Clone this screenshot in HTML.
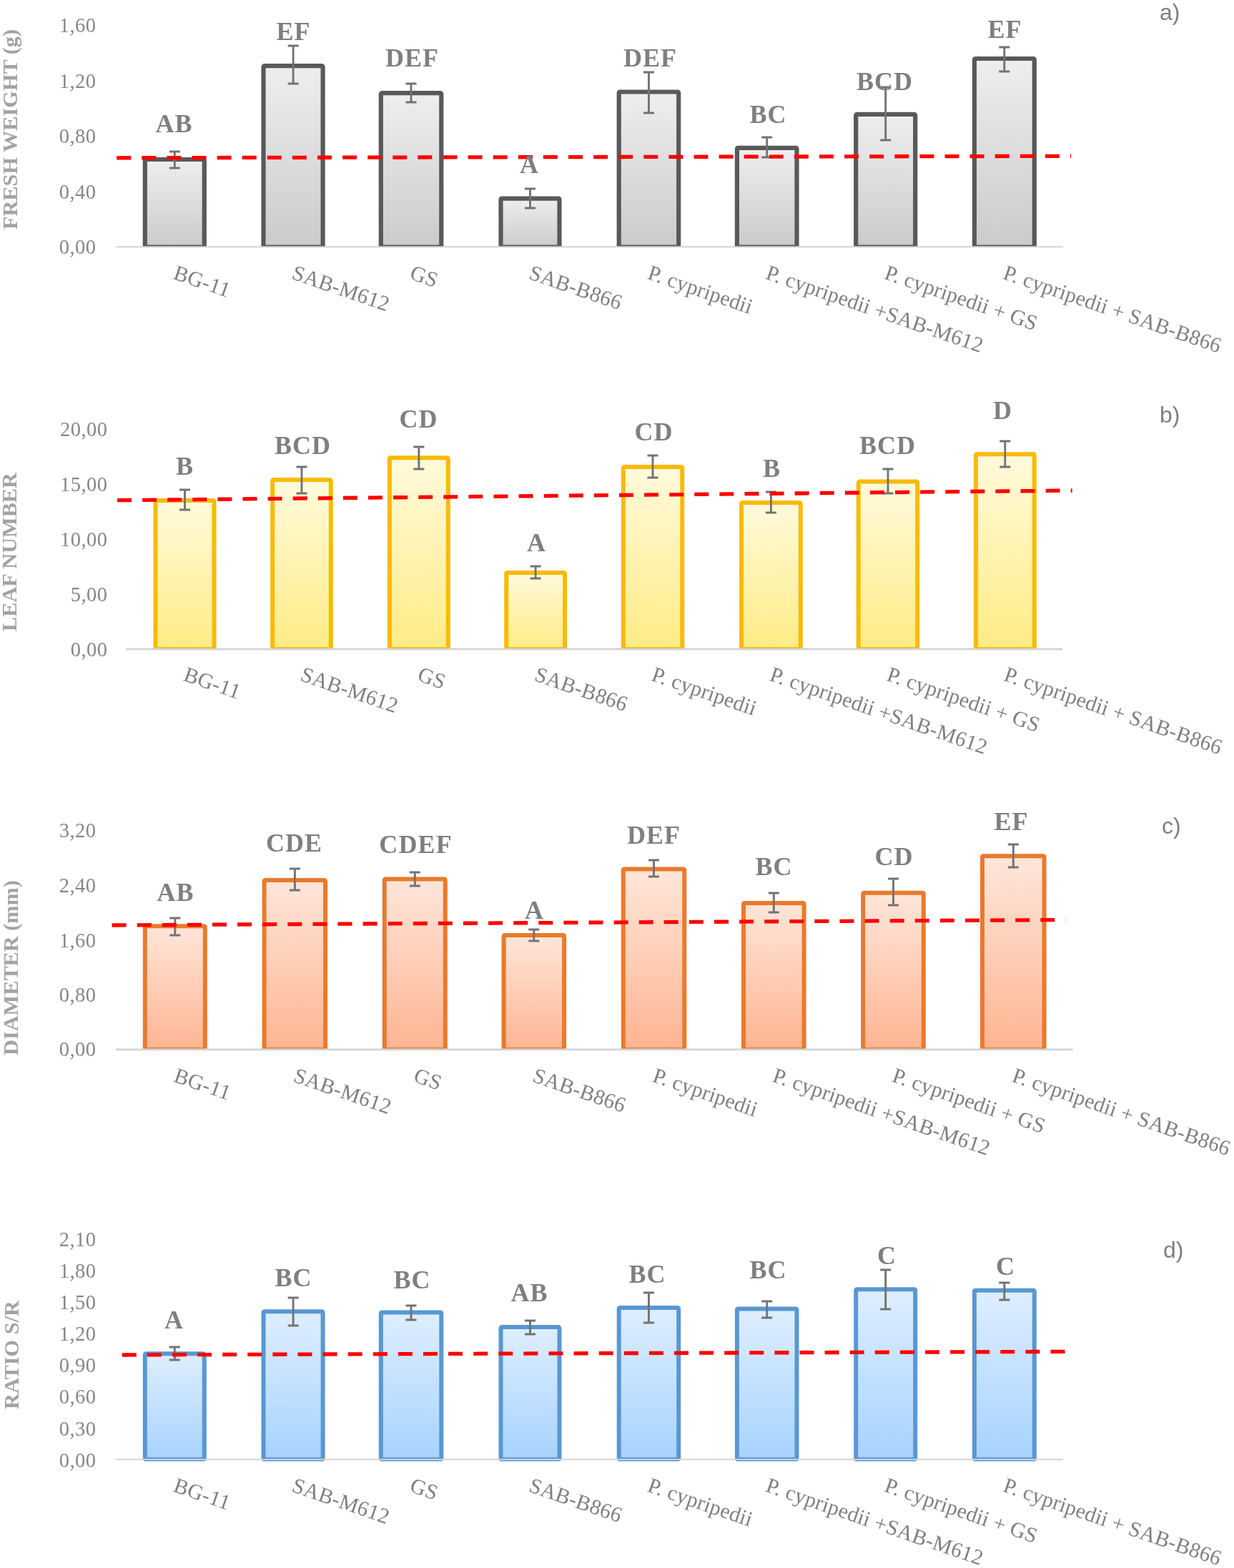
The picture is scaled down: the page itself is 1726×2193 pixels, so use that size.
<!DOCTYPE html>
<html lang="en"><head><meta charset="utf-8"><title>Figure</title>
<style>html,body{margin:0;padding:0;background:#fff}body{width:1726px;height:2193px;overflow:hidden}svg{display:block}
text{font-family:"Liberation Serif","DejaVu Serif",serif}
.tk{font-size:28.5px;fill:#868686;text-anchor:end;letter-spacing:0.45px}
  .ct{font-size:30px;fill:#808080;letter-spacing:0.2px}
.lb{font-size:36px;fill:#7f7f7f;font-weight:bold;text-anchor:middle;letter-spacing:1.1px}
.tt{font-size:30.3px;fill:#a3a3a3;font-weight:bold;text-anchor:middle}
.pn{font-family:"Liberation Sans","DejaVu Sans",sans-serif;font-size:32px;fill:#7f7f7f}
.eb{stroke:#737373;stroke-width:2.9;fill:none}
.ax{stroke:#d4d4d4;stroke-width:2.6}
.rd{stroke:#ff0000;stroke-width:5.3;stroke-dasharray:20 15.1;fill:none}
</style></head><body>
<svg width="1726" height="2193" viewBox="0 0 1726 2193">
<rect width="1726" height="2193" fill="#fff"/>
<defs>
<linearGradient id="ga" x1="0" y1="0" x2="0" y2="1"><stop offset="0" stop-color="#eeeeee"/><stop offset="1" stop-color="#cbcbcb"/></linearGradient>
<linearGradient id="gb" x1="0" y1="0" x2="0" y2="1"><stop offset="0" stop-color="#fffadc"/><stop offset="1" stop-color="#ffec85"/></linearGradient>
<linearGradient id="gc" x1="0" y1="0" x2="0" y2="1"><stop offset="0" stop-color="#ffe6da"/><stop offset="1" stop-color="#feb592"/></linearGradient>
<linearGradient id="gd" x1="0" y1="0" x2="0" y2="1"><stop offset="0" stop-color="#deeeff"/><stop offset="1" stop-color="#a7d3fe"/></linearGradient>
</defs>
<g id="chart-a">
<text class="tt" transform="translate(14,181) rotate(-90)" dy="0.33em">FRESH WEIGHT (g)</text>
<text class="tk" x="134.45" y="45.205">1,60</text>
<text class="tk" x="134.45" y="122.705">1,20</text>
<text class="tk" x="134.45" y="200.205">0,80</text>
<text class="tk" x="134.45" y="277.705">0,40</text>
<text class="tk" x="134.45" y="355.205">0,00</text>
<clipPath id="cpa"><rect x="0" y="-54.8" width="1726" height="400"/></clipPath>
<g clip-path="url(#cpa)">
<rect x="202.80" y="223.00" width="83.00" height="122.65" rx="1.5" fill="url(#ga)" stroke="#595959" stroke-width="6.2"/>
<rect x="368.50" y="92.20" width="83.10" height="253.45" rx="1.5" fill="url(#ga)" stroke="#595959" stroke-width="6.2"/>
<rect x="532.80" y="130.20" width="84.50" height="215.45" rx="1.5" fill="url(#ga)" stroke="#595959" stroke-width="6.2"/>
<rect x="700.50" y="277.60" width="82.00" height="68.05" rx="1.5" fill="url(#ga)" stroke="#595959" stroke-width="6.2"/>
<rect x="865.70" y="128.50" width="83.50" height="217.15" rx="1.5" fill="url(#ga)" stroke="#595959" stroke-width="6.2"/>
<rect x="1030.90" y="206.80" width="83.60" height="138.85" rx="1.5" fill="url(#ga)" stroke="#595959" stroke-width="6.2"/>
<rect x="1197.20" y="159.90" width="83.00" height="185.75" rx="1.5" fill="url(#ga)" stroke="#595959" stroke-width="6.2"/>
<rect x="1362.90" y="82.00" width="83.90" height="263.65" rx="1.5" fill="url(#ga)" stroke="#595959" stroke-width="6.2"/>
</g>
<line class="ax" style="stroke-width:2.1" x1="162" y1="345.2" x2="1487" y2="345.2"/>
<path class="eb" d="M236.8 212.0H251.8M244.3 212.0V235.0M236.8 235.0H251.8"/>
<path class="eb" d="M402.6 64.0H417.6M410.1 64.0V117.0M402.6 117.0H417.6"/>
<path class="eb" d="M567.5 117.0H582.5M575.0 117.0V143.0M567.5 143.0H582.5"/>
<path class="eb" d="M734.0 264.0H749.0M741.5 264.0V291.0M734.0 291.0H749.0"/>
<path class="eb" d="M900.0 101.0H915.0M907.5 101.0V158.0M900.0 158.0H915.0"/>
<path class="eb" d="M1065.2 192.0H1080.2M1072.7 192.0V220.0M1065.2 220.0H1080.2"/>
<path class="eb" d="M1231.2 122.0H1246.2M1238.7 122.0V196.0M1231.2 196.0H1246.2"/>
<path class="eb" d="M1397.3 66.0H1412.3M1404.8 66.0V100.0M1397.3 100.0H1412.3"/>
<line class="rd" x1="163.2" y1="220.8" x2="1498.2" y2="218.3"/>
<text class="lb" x="243.55" y="184.5">AB</text>
<text class="lb" x="410.55" y="55.5">EF</text>
<text class="lb" x="576.55" y="92.5">DEF</text>
<text class="lb" x="740.55" y="242.2">A</text>
<text class="lb" x="909.55" y="92.5">DEF</text>
<text class="lb" x="1074.55" y="171.5">BC</text>
<text class="lb" x="1237.55" y="125.5">BCD</text>
<text class="lb" x="1405.55" y="52.5">EF</text>
<text class="ct" transform="translate(241.0,389.6) rotate(19)">BG-11</text>
<text class="ct" transform="translate(406.8,389.6) rotate(19)">SAB-M612</text>
<text class="ct" transform="translate(571.8,389.6) rotate(19)">GS</text>
<text class="ct" transform="translate(738.2,389.6) rotate(19)">SAB-B866</text>
<text class="ct" transform="translate(904.2,389.6) rotate(19)">P. cypripedii</text>
<text class="ct" transform="translate(1069.4,389.6) rotate(19)">P. cypripedii +SAB-M612</text>
<text class="ct" transform="translate(1235.4,389.6) rotate(19)">P. cypripedii + GS</text>
<text class="ct" transform="translate(1401.5,389.6) rotate(19)">P. cypripedii + SAB-B866</text>
<text class="pn" x="1622" y="28">a)</text>
</g>
<g id="chart-b">
<text class="tt" transform="translate(13,772) rotate(-90)" dy="0.33em">LEAF NUMBER</text>
<text class="tk" x="150.45" y="610.005">20,00</text>
<text class="tk" x="150.45" y="686.805">15,00</text>
<text class="tk" x="150.45" y="764.205">10,00</text>
<text class="tk" x="150.45" y="841.005">5,00</text>
<text class="tk" x="150.45" y="918.305">0,00</text>
<clipPath id="cpb"><rect x="0" y="507.9" width="1726" height="400"/></clipPath>
<g clip-path="url(#cpb)">
<rect x="217.50" y="699.90" width="82.00" height="208.20" rx="1.5" fill="url(#gb)" stroke="#f9ba07" stroke-width="6"/>
<rect x="381.20" y="671.10" width="81.60" height="237.00" rx="1.5" fill="url(#gb)" stroke="#f9ba07" stroke-width="6"/>
<rect x="544.90" y="640.20" width="81.90" height="267.90" rx="1.5" fill="url(#gb)" stroke="#f9ba07" stroke-width="6"/>
<rect x="708.20" y="800.90" width="81.90" height="107.20" rx="1.5" fill="url(#gb)" stroke="#f9ba07" stroke-width="6"/>
<rect x="871.80" y="652.90" width="82.50" height="255.20" rx="1.5" fill="url(#gb)" stroke="#f9ba07" stroke-width="6"/>
<rect x="1037.00" y="702.90" width="82.80" height="205.20" rx="1.5" fill="url(#gb)" stroke="#f9ba07" stroke-width="6"/>
<rect x="1200.70" y="673.60" width="82.50" height="234.50" rx="1.5" fill="url(#gb)" stroke="#f9ba07" stroke-width="6"/>
<rect x="1364.90" y="635.20" width="81.90" height="272.90" rx="1.5" fill="url(#gb)" stroke="#f9ba07" stroke-width="6"/>
</g>
<line class="ax" style="stroke-width:2.6" x1="176" y1="907.9" x2="1486" y2="907.9"/>
<path class="eb" d="M251.0 685.0H266.0M258.5 685.0V713.0M251.0 713.0H266.0"/>
<path class="eb" d="M414.5 653.0H429.5M422.0 653.0V690.0M414.5 690.0H429.5"/>
<path class="eb" d="M578.4 625.0H593.4M585.9 625.0V656.0M578.4 656.0H593.4"/>
<path class="eb" d="M741.6 792.0H756.6M749.1 792.0V809.0M741.6 809.0H756.6"/>
<path class="eb" d="M905.5 637.0H920.5M913.0 637.0V668.0M905.5 668.0H920.5"/>
<path class="eb" d="M1070.9 688.0H1085.9M1078.4 688.0V717.0M1070.9 717.0H1085.9"/>
<path class="eb" d="M1234.5 656.0H1249.5M1242.0 656.0V690.0M1234.5 690.0H1249.5"/>
<path class="eb" d="M1398.3 617.0H1413.3M1405.8 617.0V653.0M1398.3 653.0H1413.3"/>
<line class="rd" x1="164" y1="699.7" x2="1499.7" y2="686"/>
<text class="lb" x="258.55" y="663.5">B</text>
<text class="lb" x="423.55" y="634.5">BCD</text>
<text class="lb" x="585.55" y="597.5">CD</text>
<text class="lb" x="750.55" y="770.5">A</text>
<text class="lb" x="914.55" y="615.5">CD</text>
<text class="lb" x="1079.55" y="666.5">B</text>
<text class="lb" x="1241.55" y="634.5">BCD</text>
<text class="lb" x="1402.55" y="585.5">D</text>
<text class="ct" transform="translate(255.2,951.3) rotate(19)">BG-11</text>
<text class="ct" transform="translate(418.7,951.3) rotate(19)">SAB-M612</text>
<text class="ct" transform="translate(582.6,951.3) rotate(19)">GS</text>
<text class="ct" transform="translate(745.9,951.3) rotate(19)">SAB-B866</text>
<text class="ct" transform="translate(909.8,951.3) rotate(19)">P. cypripedii</text>
<text class="ct" transform="translate(1075.1,951.3) rotate(19)">P. cypripedii +SAB-M612</text>
<text class="ct" transform="translate(1238.7,951.3) rotate(19)">P. cypripedii + GS</text>
<text class="ct" transform="translate(1402.5,951.3) rotate(19)">P. cypripedii + SAB-B866</text>
<text class="pn" x="1622" y="591">b)</text>
</g>
<g id="chart-c">
<text class="tt" transform="translate(15.3,1353.5) rotate(-90)" dy="0.33em">DIAMETER (mm)</text>
<text class="tk" x="134.45" y="1171.2">3,20</text>
<text class="tk" x="134.45" y="1248">2,40</text>
<text class="tk" x="134.45" y="1324.8">1,60</text>
<text class="tk" x="134.45" y="1400.5">0,80</text>
<text class="tk" x="134.45" y="1477.4">0,00</text>
<clipPath id="cpc"><rect x="0" y="1067.9" width="1726" height="400"/></clipPath>
<g clip-path="url(#cpc)">
<rect x="202.80" y="1295.20" width="84.00" height="172.90" rx="1.5" fill="url(#gc)" stroke="#e97a2c" stroke-width="6"/>
<rect x="369.60" y="1231.10" width="85.50" height="237.00" rx="1.5" fill="url(#gc)" stroke="#e97a2c" stroke-width="6"/>
<rect x="537.80" y="1229.50" width="85.00" height="238.60" rx="1.5" fill="url(#gc)" stroke="#e97a2c" stroke-width="6"/>
<rect x="704.60" y="1307.90" width="84.50" height="160.20" rx="1.5" fill="url(#gc)" stroke="#e97a2c" stroke-width="6"/>
<rect x="871.80" y="1215.40" width="85.50" height="252.70" rx="1.5" fill="url(#gc)" stroke="#e97a2c" stroke-width="6"/>
<rect x="1040.00" y="1262.90" width="84.60" height="205.20" rx="1.5" fill="url(#gc)" stroke="#e97a2c" stroke-width="6"/>
<rect x="1207.20" y="1248.70" width="84.60" height="219.40" rx="1.5" fill="url(#gc)" stroke="#e97a2c" stroke-width="6"/>
<rect x="1374.00" y="1197.20" width="86.60" height="270.90" rx="1.5" fill="url(#gc)" stroke="#e97a2c" stroke-width="6"/>
</g>
<line class="ax" style="stroke-width:2.6" x1="161.7" y1="1467.9" x2="1500.7" y2="1467.9"/>
<path class="eb" d="M237.3 1284.0H252.3M244.8 1284.0V1308.0M237.3 1308.0H252.3"/>
<path class="eb" d="M404.9 1215.0H419.9M412.4 1215.0V1245.0M404.9 1245.0H419.9"/>
<path class="eb" d="M572.8 1220.0H587.8M580.3 1220.0V1239.0M572.8 1239.0H587.8"/>
<path class="eb" d="M739.3 1300.0H754.3M746.8 1300.0V1316.0M739.3 1316.0H754.3"/>
<path class="eb" d="M907.0 1203.0H922.0M914.5 1203.0V1226.0M907.0 1226.0H922.0"/>
<path class="eb" d="M1074.8 1249.0H1089.8M1082.3 1249.0V1276.0M1074.8 1276.0H1089.8"/>
<path class="eb" d="M1242.0 1229.0H1257.0M1249.5 1229.0V1266.0M1242.0 1266.0H1257.0"/>
<path class="eb" d="M1409.8 1181.0H1424.8M1417.3 1181.0V1213.0M1409.8 1213.0H1424.8"/>
<line class="rd" x1="156.6" y1="1294" x2="1490.6" y2="1286.5"/>
<text class="lb" x="245.55" y="1259.5">AB</text>
<text class="lb" x="411.55" y="1190.5">CDE</text>
<text class="lb" x="581.55" y="1192.5">CDEF</text>
<text class="lb" x="747.55" y="1284.5">A</text>
<text class="lb" x="914.55" y="1179.5">DEF</text>
<text class="lb" x="1082.55" y="1223.5">BC</text>
<text class="lb" x="1250.55" y="1209.5">CD</text>
<text class="lb" x="1414.55" y="1160.5">EF</text>
<text class="ct" transform="translate(241.5,1512.3) rotate(19)">BG-11</text>
<text class="ct" transform="translate(409.1,1512.3) rotate(19)">SAB-M612</text>
<text class="ct" transform="translate(577.0,1512.3) rotate(19)">GS</text>
<text class="ct" transform="translate(743.5,1512.3) rotate(19)">SAB-B866</text>
<text class="ct" transform="translate(911.2,1512.3) rotate(19)">P. cypripedii</text>
<text class="ct" transform="translate(1079.0,1512.3) rotate(19)">P. cypripedii +SAB-M612</text>
<text class="ct" transform="translate(1246.2,1512.3) rotate(19)">P. cypripedii + GS</text>
<text class="ct" transform="translate(1414.0,1512.3) rotate(19)">P. cypripedii + SAB-B866</text>
<text class="pn" x="1625" y="1166">c)</text>
</g>
<g id="chart-d">
<text class="tt" transform="translate(15.5,1895) rotate(-90)" dy="0.33em">RATIO S/R</text>
<text class="tk" x="134.45" y="1743.4">2,10</text>
<text class="tk" x="134.45" y="1786.81">1,80</text>
<text class="tk" x="134.45" y="1830.81">1,50</text>
<text class="tk" x="134.45" y="1874.7">1,20</text>
<text class="tk" x="134.45" y="1919.2">0,90</text>
<text class="tk" x="134.45" y="1963.2">0,60</text>
<text class="tk" x="134.45" y="2007.61">0,30</text>
<text class="tk" x="134.45" y="2051.61">0,00</text>
<clipPath id="cpd"><rect x="0" y="1641.2" width="1726" height="402.6"/></clipPath>
<g clip-path="url(#cpd)">
<rect x="202.80" y="1893.20" width="83.00" height="148.00" rx="1.5" fill="url(#gd)" stroke="#5997d3" stroke-width="6"/>
<rect x="368.50" y="1834.20" width="83.10" height="207.00" rx="1.5" fill="url(#gd)" stroke="#5997d3" stroke-width="6"/>
<rect x="532.80" y="1835.40" width="84.50" height="205.80" rx="1.5" fill="url(#gd)" stroke="#5997d3" stroke-width="6"/>
<rect x="700.50" y="1856.10" width="82.00" height="185.10" rx="1.5" fill="url(#gd)" stroke="#5997d3" stroke-width="6"/>
<rect x="865.70" y="1828.90" width="83.50" height="212.30" rx="1.5" fill="url(#gd)" stroke="#5997d3" stroke-width="6"/>
<rect x="1030.90" y="1830.40" width="83.60" height="210.80" rx="1.5" fill="url(#gd)" stroke="#5997d3" stroke-width="6"/>
<rect x="1197.20" y="1803.20" width="83.00" height="238.00" rx="1.5" fill="url(#gd)" stroke="#5997d3" stroke-width="6"/>
<rect x="1362.90" y="1804.70" width="83.90" height="236.50" rx="1.5" fill="url(#gd)" stroke="#5997d3" stroke-width="6"/>
</g>
<line class="ax" style="stroke-width:2" x1="161.7" y1="2041.2" x2="1487" y2="2041.2"/>
<path class="eb" d="M236.8 1884.0H251.8M244.3 1884.0V1902.0M236.8 1902.0H251.8"/>
<path class="eb" d="M402.6 1815.0H417.6M410.1 1815.0V1854.0M402.6 1854.0H417.6"/>
<path class="eb" d="M567.5 1826.0H582.5M575.0 1826.0V1846.0M567.5 1846.0H582.5"/>
<path class="eb" d="M734.0 1847.0H749.0M741.5 1847.0V1866.0M734.0 1866.0H749.0"/>
<path class="eb" d="M900.0 1808.0H915.0M907.5 1808.0V1850.0M900.0 1850.0H915.0"/>
<path class="eb" d="M1065.2 1820.0H1080.2M1072.7 1820.0V1843.0M1065.2 1843.0H1080.2"/>
<path class="eb" d="M1231.2 1776.0H1246.2M1238.7 1776.0V1831.0M1231.2 1831.0H1246.2"/>
<path class="eb" d="M1397.3 1794.0H1412.3M1404.8 1794.0V1818.0M1397.3 1818.0H1412.3"/>
<line class="rd" x1="170.8" y1="1895" x2="1489.6" y2="1890.4"/>
<text class="lb" x="243.55" y="1857.5">A</text>
<text class="lb" x="410.55" y="1798.5">BC</text>
<text class="lb" x="576.55" y="1801.5">BC</text>
<text class="lb" x="740.55" y="1819.5">AB</text>
<text class="lb" x="905.55" y="1793.5">BC</text>
<text class="lb" x="1074.55" y="1787.5">BC</text>
<text class="lb" x="1240.55" y="1767.5">C</text>
<text class="lb" x="1406.55" y="1782.5">C</text>
<text class="ct" transform="translate(241.0,2085.6) rotate(19)">BG-11</text>
<text class="ct" transform="translate(406.8,2085.6) rotate(19)">SAB-M612</text>
<text class="ct" transform="translate(571.8,2085.6) rotate(19)">GS</text>
<text class="ct" transform="translate(738.2,2085.6) rotate(19)">SAB-B866</text>
<text class="ct" transform="translate(904.2,2085.6) rotate(19)">P. cypripedii</text>
<text class="ct" transform="translate(1069.4,2085.6) rotate(19)">P. cypripedii +SAB-M612</text>
<text class="ct" transform="translate(1235.4,2085.6) rotate(19)">P. cypripedii + GS</text>
<text class="ct" transform="translate(1401.5,2085.6) rotate(19)">P. cypripedii + SAB-B866</text>
<text class="pn" x="1627" y="1758.5">d)</text>
</g>
</svg></body></html>
